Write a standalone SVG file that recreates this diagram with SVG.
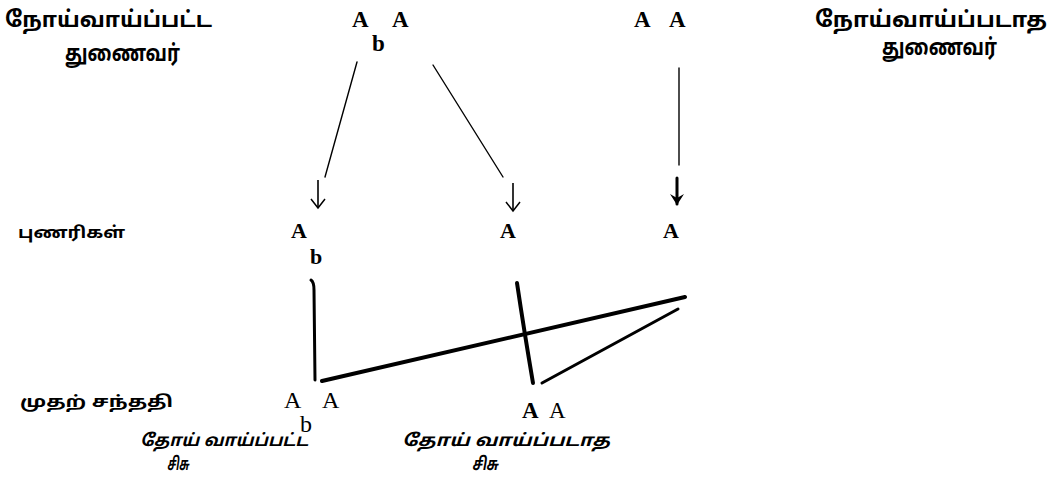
<svg xmlns="http://www.w3.org/2000/svg" width="1060" height="498" viewBox="0 0 1060 498">
<style>
.ta{font-family:"Noto Sans Tamil","Noto Sans","Liberation Sans",sans-serif;font-weight:bold;fill:#000}
.ti{font-family:"Noto Sans Tamil","Noto Sans","Liberation Sans",sans-serif;font-weight:bold;font-style:italic;fill:#000}
.g{font-family:"Liberation Serif","DejaVu Serif",serif;font-weight:bold;fill:#000}
.gr{font-family:"Liberation Serif","DejaVu Serif",serif;fill:#000}
.thin{stroke:#000;stroke-width:1.4;fill:none;stroke-linecap:round}
.shaft{stroke:#000;stroke-width:1.6;fill:none}
.bold{stroke:#000;stroke-width:4;fill:none;stroke-linecap:round}
.med{stroke:#000;stroke-width:3;fill:none;stroke-linecap:round}
</style>
<defs>
<marker id="v" markerWidth="12" markerHeight="16" refX="10" refY="8" orient="auto" markerUnits="userSpaceOnUse" viewBox="0 0 12 16">
<path d="M1,1 L10,8 L1,15" stroke="#000" stroke-width="1.5" fill="none"/>
</marker>
<marker id="vb" markerWidth="14" markerHeight="16" refX="12" refY="8" orient="auto" markerUnits="userSpaceOnUse" viewBox="0 0 14 16">
<path d="M2,1 L13,8 L2,15 L6,8 Z" fill="#000"/>
</marker>
</defs>
<rect width="1060" height="498" fill="#fff"/>

<g id="label-affected-parent">
<text class="ta" x="5" y="27" font-size="22" textLength="207" lengthAdjust="spacingAndGlyphs">நோய்வாய்ப்பட்ட</text>
<text class="ta" x="65" y="61" font-size="23" textLength="115" lengthAdjust="spacingAndGlyphs">துணைவர்</text>
</g>
<g id="label-normal-parent">
<text class="ta" x="815" y="27" font-size="22" textLength="232" lengthAdjust="spacingAndGlyphs">நோய்வாய்ப்படாத</text>
<text class="ta" x="882" y="55" font-size="23" textLength="115" lengthAdjust="spacingAndGlyphs">துணைவர்</text>
</g>
<g id="parent-affected">
<text class="g" x="352" y="27" font-size="23">A</text>
<text class="g" x="392" y="27" font-size="23">A</text>
<text class="g" x="372" y="51" font-size="23">b</text>
</g>
<g id="parent-normal">
<text class="g" x="634" y="27" font-size="23">A</text>
<text class="g" x="669" y="27" font-size="23">A</text>
</g>

<g id="label-gametes">
<text class="ta" x="18" y="238" font-size="16" textLength="107" lengthAdjust="spacingAndGlyphs">புணரிகள்</text>
</g>
<g id="gamete-1">
<text class="g" x="291" y="238" font-size="22">A</text>
<text class="g" x="310" y="264" font-size="22">b</text>
</g>
<g id="gamete-2">
<text class="g" x="500" y="238" font-size="22">A</text>
</g>
<g id="gamete-3">
<text class="g" x="663" y="238" font-size="22">A</text>
</g>

<g id="label-f1">
<text class="ta" x="20" y="407" font-size="16" textLength="153" lengthAdjust="spacingAndGlyphs">முதற் சந்ததி</text>
</g>
<g id="child-affected">
<text class="gr" x="284" y="408" font-size="24">A</text>
<text class="gr" x="322" y="408" font-size="24">A</text>
<text class="gr" x="300" y="432" font-size="24">b</text>
<text class="ti" x="140" y="446" font-size="17" textLength="168" lengthAdjust="spacingAndGlyphs">தோய் வாய்ப்பட்ட</text>
<text class="ti" x="167" y="470" font-size="18" textLength="22" lengthAdjust="spacingAndGlyphs">சிசு</text>
</g>
<g id="child-normal">
<text class="g" x="522" y="418" font-size="23">A</text>
<text class="gr" x="549" y="418" font-size="23">A</text>
<text class="ti" x="402" y="446" font-size="17" textLength="208" lengthAdjust="spacingAndGlyphs">தோய் வாய்ப்படாத</text>
<text class="ti" x="472" y="470" font-size="18" textLength="26" lengthAdjust="spacingAndGlyphs">சிசு</text>
</g>

<g id="connectors">
<line class="thin" x1="357" y1="62" x2="325" y2="177"/>
<line class="thin" x1="433" y1="65" x2="503" y2="177"/>
<line class="thin" x1="679" y1="68" x2="679" y2="165"/>
<line class="shaft" x1="318" y1="180" x2="318" y2="208" marker-end="url(#v)"/>
<line class="shaft" x1="513" y1="183" x2="513" y2="211" marker-end="url(#v)"/>
<line class="med" x1="677" y1="178" x2="677" y2="204" marker-end="url(#vb)"/>
<path class="med" d="M311,280 Q314,282 314,290 L315,380"/>
<line class="bold" x1="322" y1="381" x2="685" y2="297"/>
<path class="bold" d="M517,283 Q524,330 533,383"/>
<line class="med" x1="542" y1="383" x2="678" y2="309"/>
</g>
</svg>
